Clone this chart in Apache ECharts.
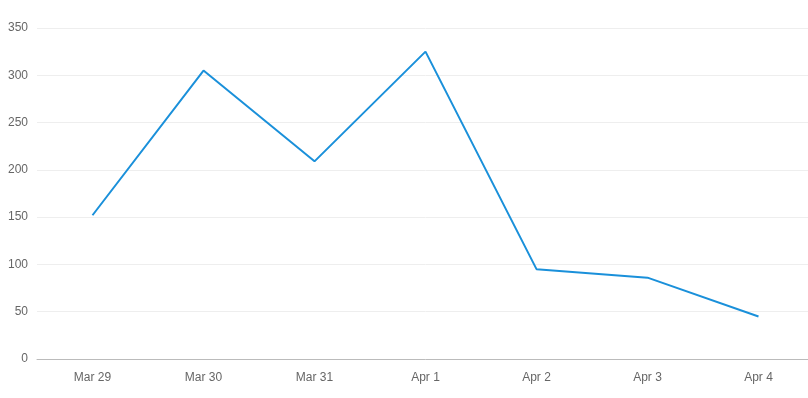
<!DOCTYPE html>
<html><head><meta charset="utf-8">
<script src="https://cdn.jsdelivr.net/npm/echarts@6/dist/echarts.min.js"></script>
<style>html,body{margin:0;padding:0;background:#fff;overflow:hidden;width:808px;height:398px}#c{width:814px;height:398px}</style>
</head><body><div id="c"></div>
<script>
const categories = ['Mar 29','Mar 30','Mar 31','Apr 1','Apr 2','Apr 3','Apr 4'];
const values = [152, 305, 209, 325, 95, 86, 45];
const yTicks = { min: 0, max: 350, interval: 50 };

const chart = echarts.init(document.getElementById('c'), null, {renderer:'canvas'});
chart.setOption({
  animation: false,
  grid: { left: 37, top: 28, right: 0, bottom: 39, containLabel: false },
  xAxis: {
    type: 'category', data: categories, boundaryGap: true,
    axisLine: { lineStyle: { color: '#bbbbbb' } },
    axisTick: { alignWithLabel: true, length: 5, lineStyle: { color: '#bbbbbb' } },
    axisLabel: { color: '#666', fontFamily: 'Liberation Sans, Arial', fontSize: 12, margin: 13 },
    splitLine: { show: false }
  },
  yAxis: {
    type: 'value', min: yTicks.min, max: yTicks.max, interval: yTicks.interval,
    axisLine: { show: false }, axisTick: { show: false },
    axisLabel: { color: '#666', fontFamily: 'Liberation Sans, Arial', fontSize: 12, margin: 9 },
    splitLine: { lineStyle: { color: '#eeeeee' } }
  },
  series: [{
    type: 'line', data: values, symbol: 'none',
    lineStyle: { color: '#1a90da', width: 2 }
  }]
});
</script></body></html>
